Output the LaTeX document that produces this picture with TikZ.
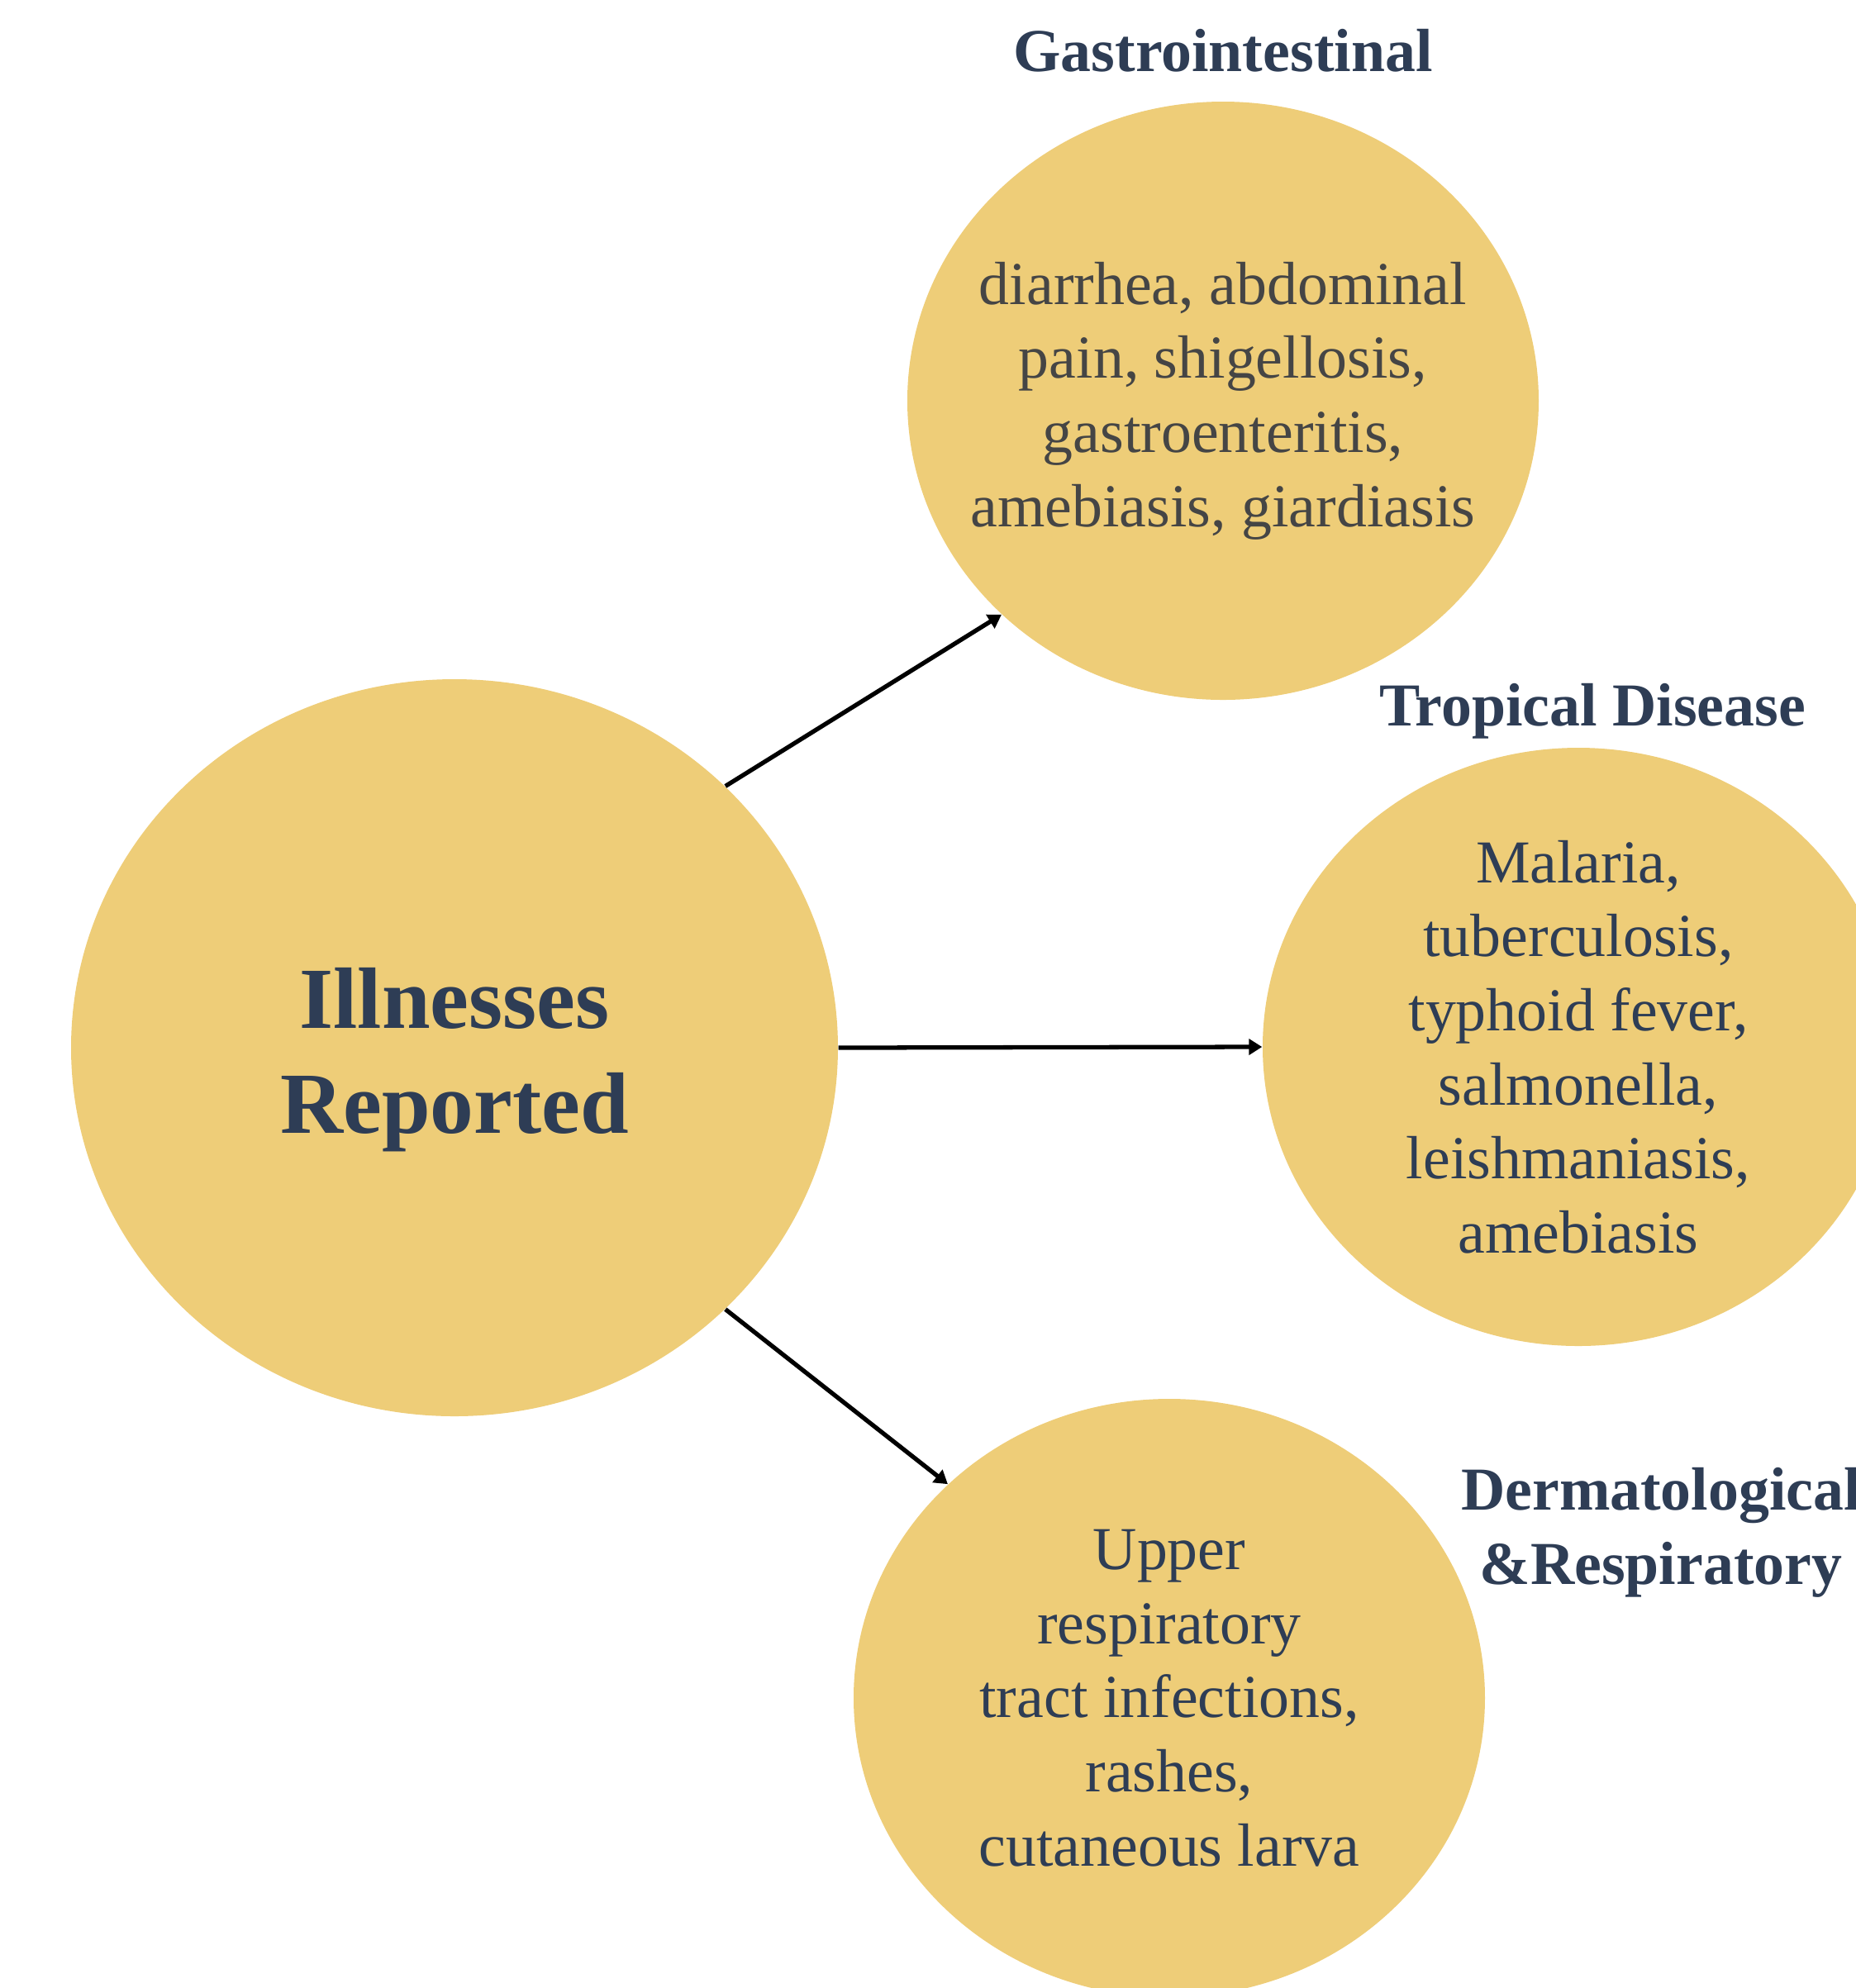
\documentclass[tikz,border=0pt]{standalone}
\usepackage{fontspec}
\setmainfont{Liberation Serif}
\usetikzlibrary{shapes.geometric,arrows.meta}
\definecolor{sand}{HTML}{EECD78}
\definecolor{slate}{HTML}{2E3D55}
\definecolor{ash}{HTML}{454545}

\tikzset{
  blob/.style={ellipse, fill=sand, inner sep=-2cm, text=slate, align=center},
  hub/.style={blob, minimum width=9.28cm, minimum height=8.92cm,
    font=\fontsize{30}{36}\selectfont\bfseries},
  leaf/.style={blob, minimum width=7.64cm, minimum height=7.24cm,
    font=\fontsize{21}{25.5}\selectfont},
  tag/.style={text=slate, align=center, font=\fontsize{21}{25.5}\selectfont\bfseries},
  link/.style={-{Triangle[length=0.16cm,width=0.19cm]}, line width=1.5pt}
}

\begin{document}
\begin{tikzpicture}
  \useasboundingbox (0,0) rectangle (22.46,-24.06);

  % centre and the three groups around it
  \node[hub] (ill) at (5.50,-12.68) {\rule{0pt}{29pt}Illnesses\\Reported};
  \node[leaf, text=ash] (gastro) at (14.80,-4.85)
    {diarrhea, abdominal\\pain, shigellosis,\\gastroenteritis,\\amebiasis, giardiasis};
  \node[leaf] (tropic) at (19.10,-12.67)
    {Malaria,\\tuberculosis,\\typhoid fever,\\salmonella,\\leishmaniasis,\\amebiasis};
  \node[leaf] (derm) at (14.15,-20.55)
    {Upper\\respiratory\\tract infections,\\rashes,\\cutaneous larva};

  % group titles
  \node[tag] (gastrotag) at (14.80,-0.61) {Gastrointestinal};
  \node[tag] (tropictag) at (19.27,-8.61) {Tropical Disease};
  \node[tag] (dermtag) at (20.10,-18.55) {Dermatological\\\&Respiratory};

  \draw[link] (ill.44) -- (gastro.224);
  \draw[link] (ill.east) -- (tropic.west);
  \draw[link] (ill.-44) -- (derm.136);
\end{tikzpicture}
\end{document}
